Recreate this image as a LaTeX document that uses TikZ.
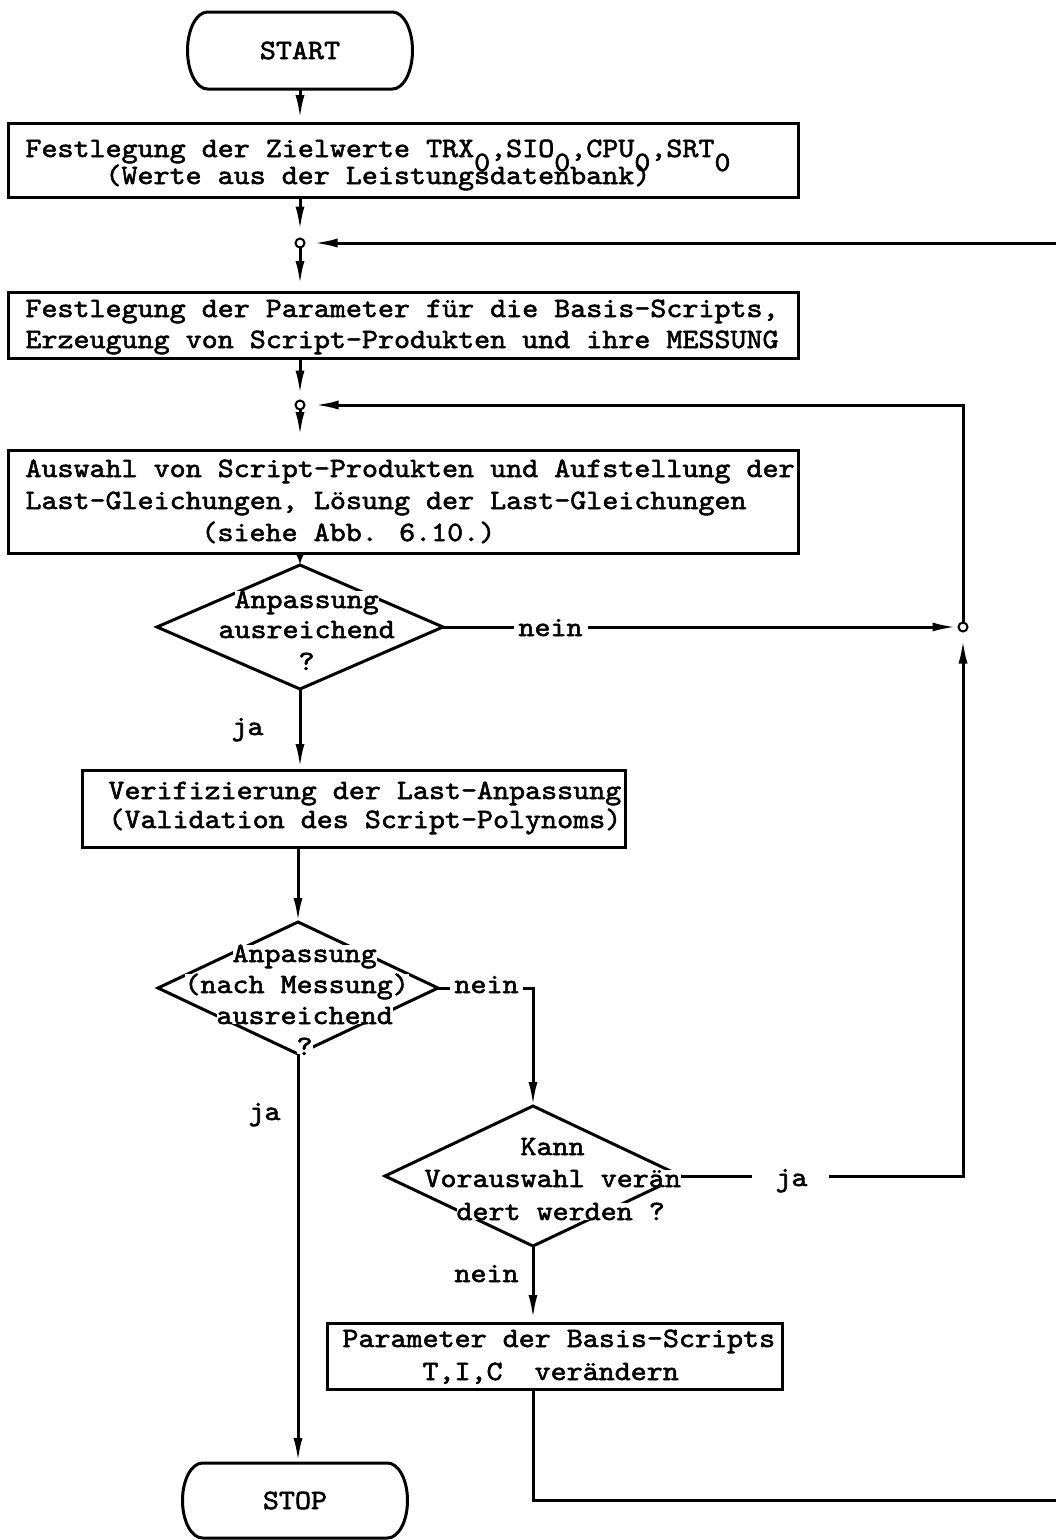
\documentclass[tikz,border=0pt]{standalone}
\usepackage{fontspec}
\newfontfamily\twfont{lmmono10-regular}[Extension=.otf, FakeStretch=1.09, RawFeature={embolden=2}]
\usetikzlibrary{arrows.meta,shapes.geometric}
% one typewriter column
\newlength\cw \setlength\cw{16pt}
% typewriter subscript: full-size digit dropped by a half line feed
\newcommand\dn[1]{\raisebox{-14pt}{#1}}
\begin{document}
\begin{tikzpicture}[x=1pt,y=-1pt,
  line width=3pt,
  tw/.style={font=\twfont\fontsize{28pt}{32pt}\selectfont},
  txt/.style={tw, inner sep=0pt, anchor=base west},
  dtxt/.style={txt, fill=white},
  box/.style={draw, rectangle, inner sep=0pt, outer sep=0pt, anchor=north west},
  term/.style={tw, rectangle, inner sep=0pt, outer sep=0pt, minimum width=185pt},
  dia/.style={draw, diamond, inner sep=0pt, outer sep=0pt},
  jn/.style={circle, draw, fill=white, line width=2pt, inner sep=0pt, minimum size=9pt, outer sep=0pt},
  arr/.style={-{Latex[length=24pt,width=9pt]}},
]
\useasboundingbox (0,0) rectangle (1056,1540);

% terminals
\node[term, minimum height=77pt] (st) at (300,50.5) {START};
\draw (st.north west) -- (st.north east)
  arc[start angle=90, end angle=-90, x radius=20pt, y radius=38.5pt]
  -- (st.south west)
  arc[start angle=270, end angle=90, x radius=20pt, y radius=38.5pt] -- cycle;
\node[term, minimum height=75pt] (sp) at (295,1500.5) {STOP};
\draw (sp.north west) -- (sp.north east)
  arc[start angle=90, end angle=-90, x radius=20pt, y radius=37.5pt]
  -- (sp.south west)
  arc[start angle=270, end angle=90, x radius=20pt, y radius=37.5pt] -- cycle;

% process boxes
\node[box, minimum width=790pt, minimum height=74pt] (b1) at (8,123) {};
\node[txt] (b1a) at (24,157) {Festlegung der Zielwerte TRX\dn{0},SIO\dn{0},CPU\dn{0},SRT\dn{0}};
\node[txt] (b1b) at (104,184) {(Werte aus der Leistungsdatenbank)};

\node[box, minimum width=790pt, minimum height=66pt] (b2) at (8,292) {};
\node[txt] (b2a) at (24,317) {Festlegung der Parameter für die Basis-Scripts,};
\node[txt] (b2b) at (24,348) {Erzeugung von Script-Produkten und ihre MESSUNG};

\node[box, minimum width=790pt, minimum height=103pt] (b3) at (8,450) {};
\node[txt] (b3a) at (24,477) {Auswahl von Script-Produkten und Aufstellung der};
\node[txt] (b3b) at (24,509) {Last-Gleichungen, Lösung der Last-Gleichungen};
\node[txt] (b3c) at (200,541) {(siehe Abb. 6.10.)};

\node[box, minimum width=543pt, minimum height=77pt] (b4) at (82,770) {};
\node[txt] (b4a) at (107,799) {Verifizierung der Last-Anpassung};
\node[txt] (b4b) at (107,828) {(Validation des Script-Polynoms)};

\node[box, minimum width=455pt, minimum height=66pt] (b5) at (327,1323) {};
\node[txt] (b5a) at (341,1347) {Parameter der Basis-Scripts};
\node[txt] (b5b) at (421,1380) {T,I,C\hspace*{2\cw}verändern};

% decisions
\node[dia, minimum width=286pt, minimum height=124pt] (d1) at (300,627) {};
\node[dtxt] (d1a) at (233,608) {Anpassung};
\node[dtxt] (d1b) at (217,638) {ausreichend};
\node[dtxt] (d1c) at (297,670) {?};

\node[dia, minimum width=280pt, minimum height=132pt] (d2) at (298,988) {};
\node[dtxt] (d2a) at (231,962) {Anpassung};
\node[dtxt] (d2b) at (183,993) {(nach Messung)};
\node[dtxt] (d2c) at (215,1024) {ausreichend};
\node[dtxt] (d2d) at (295,1055) {?};

\node[dia, minimum width=296pt, minimum height=140pt] (d3) at (533,1176) {};
\node[dtxt] (d3a) at (519,1155) {Kann};
\node[dtxt] (d3b) at (423,1187) {Vorauswahl verän};
\node[dtxt] (d3c) at (455,1220) {dert werden ?};

% junction points
\node[jn] (j1) at (300,243) {};
\node[jn] (j2) at (300,405) {};
\node[jn] (j3) at (963,627) {};
\coordinate (e1) at (1056,243);
\coordinate (e2) at (1056,1500);

% branch labels
\node[txt] (ja1) at (230,735) {ja};
\node[txt] (ja2) at (247,1120) {ja};
\node[txt] (ne1) at (517,636) {nein};
\node[txt] (ne2) at (453,993) {nein};
\node[txt] (ja3) at (774,1186) {ja};
\node[txt] (ne3) at (453,1282) {nein};

% main flow
\draw[arr, shorten >=4pt] (st.south) -- (st.south |- b1.north);
\draw[arr, shorten >=8pt] (st.south |- b1.south) -- (j1);
\draw[arr, shorten >=9pt] (e1) -- (j1);
\draw[arr, shorten >=7pt] (j1) -- (j1 |- b2.north);
\draw[arr, shorten >=6pt] (j1 |- b2.south) -- (j2);
\draw[arr, shorten >=14pt] (j2) -- (j2 |- b3.north);
\draw[arr, shorten >=10pt] (j3) |- (j2);
\draw[-{Latex[length=11pt,width=8pt]}] (d1.north |- b3.south) -- (d1.north);
\draw[arr, shorten >=2pt] (d1.south) -- (d1.south |- b4.north);
\draw[arr] (d2.north |- b4.south) -- (d2.north);
\draw[arr, shorten >=1pt] (d2.south) -- (d2.south |- sp.north);
\draw[arr, shorten >=4pt] (d3.south) -- (d3.south |- b5.north);
\draw (d3.south |- b5.south) |- (e2);

% "nein" / "ja" branches
\draw[shorten >=3pt] (d1.east) -- (d1.east -| ne1.west);
\draw[arr, shorten <=4pt, shorten >=2pt] (d1.east -| ne1.east) -- (j3);
\draw[shorten >=3pt] (d2.east) -- (d2.east -| ne2.west);
\draw[arr, shorten <=3pt] (d2.east -| ne2.east) -| (d3.north);
\draw[shorten >=22pt] (d3.east) -- (d3.east -| ja3.west);
\draw[arr, shorten <=20pt, shorten >=8pt] (d3.east -| ja3.east) -| (j3);
\end{tikzpicture}
\end{document}
